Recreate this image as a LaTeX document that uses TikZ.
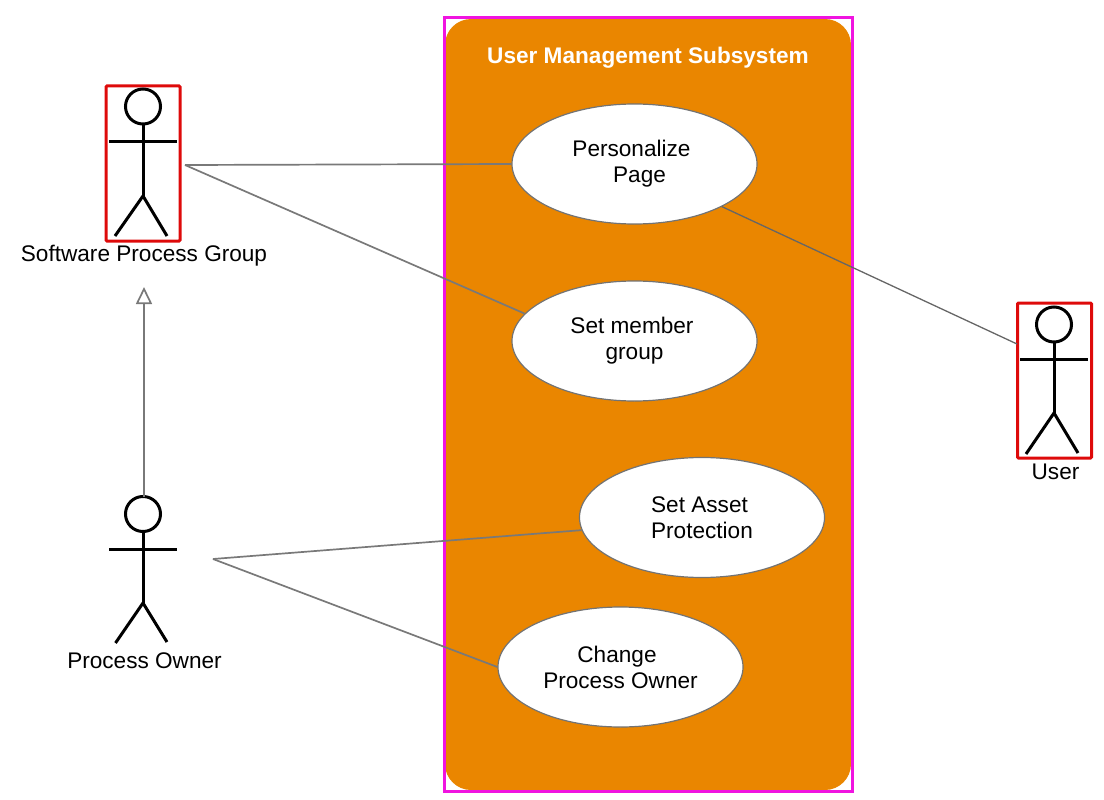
\documentclass[tikz,border=0pt]{standalone}
\usepackage{fontspec}
\setmainfont{Liberation Sans}
\usetikzlibrary{shapes.geometric}
\usetikzlibrary{arrows.meta}
\definecolor{subsysorange}{HTML}{EA8600}
\definecolor{framepink}{HTML}{F014E0}
\definecolor{boxred}{HTML}{DE0A0A}
\tikzset{
  usecase/.style={draw=gray!90!black,fill=white,ellipse,line width=1.2pt,
    minimum width=245pt,minimum height=120pt,inner sep=0pt,align=center,
    font=\fontsize{22.6}{26}\selectfont},
  actorbox/.style={draw=boxred,line width=3pt,rectangle,rounded corners=1pt,inner sep=0pt,outer sep=0pt},
  actorhead/.style={draw,circle,line width=3pt,minimum size=35pt,inner sep=0pt,outer sep=0pt},
  stick/.style={line width=3pt},
  actorlabel/.style={inner sep=0pt,font=\fontsize{22.6}{26}\selectfont},
  assoc/.style={draw=gray!95!black,line width=1.7pt}
}
\begin{document}
\begin{tikzpicture}[x=1pt,y=-1pt]
\useasboundingbox (0,0) rectangle (1104,800);

% subsystem
\node (subsystem) at (648,404.5) [fill=subsysorange,rectangle,rounded corners=26pt,minimum width=406pt,minimum height=771pt,inner sep=0pt,outer sep=0pt] {};
\node (frame) at (648.5,404.5) [draw=framepink,line width=3pt,rectangle,minimum width=408pt,minimum height=773pt,inner sep=0pt,outer sep=0pt] {};
\node (title) at (648,57.5) [text=white,inner sep=0pt,font=\fontsize{22.6}{26}\selectfont\bfseries] {User Management Subsystem};

% use cases
\node (personalize) at (634.5,164) [usecase] {\hspace*{-6pt}Personalize\\\hspace*{10pt}Page};
\node (setmember) at (634.5,341) [usecase] {\hspace*{-5pt}Set member\\group};
\node (setasset) at (702,517.5) [usecase] {\hspace*{-5pt}Set Asset\\Protection};
\node (changeowner) at (620.5,667) [usecase] {\hspace*{-7pt}Change\\Process Owner};

% software process group
\node (spgbox) at (143,163.5) [actorbox,minimum width=74pt,minimum height=155pt] {};
\node (spghead) at (143,106.5) [actorhead] {};
\draw [stick] (109,141.5) -- (177,141.5);
\draw [stick] (spghead) -- (143,196);
\draw [stick] (115,236) -- (143,196) -- (167,236);
\node (spglabel) at (144,256) [actorlabel] {Software Process Group};

% process owner
\node (pohead) at (143,514) [actorhead] {};
\draw [stick] (109,549) -- (177,549);
\draw [stick] (pohead) -- (143,603);
\draw [stick] (115.5,643) -- (143,603) -- (167,642);
\node (polabel) at (144.5,661) [actorlabel] {Process Owner};

% user
\node (userbox) at (1054.5,380.5) [actorbox,minimum width=74pt,minimum height=155pt] {};
\node (userhead) at (1054,324.5) [actorhead] {};
\draw [stick] (1020,359) -- (1088,359);
\draw [stick] (userhead) -- (1054,413);
\draw [stick] (1026,454) -- (1054,413) -- (1078,453);
\node (userlabel) at (1055.5,472) [actorlabel] {User};

% free ends
\coordinate (spgport) at (185,165);
\coordinate (poport) at (213,559);
\coordinate (userport) at (1017,344);
\coordinate (spgtip) at (144,287);

% connectors
\draw [assoc] (spgport) -- (personalize.west);
\draw [assoc] (spgport) -- (setmember.166);
\draw [assoc,line width=1.3pt,draw=gray!80!black] (personalize.-26) -- (userport);
\draw [assoc] (poport) -- (setasset.186);
\draw [assoc] (poport) -- (changeowner.west);
\draw [assoc,-{Triangle[open,length=17pt,width=16pt,fill=white]}] (pohead.north -| spgtip) -- (spgtip);
\end{tikzpicture}
\end{document}
